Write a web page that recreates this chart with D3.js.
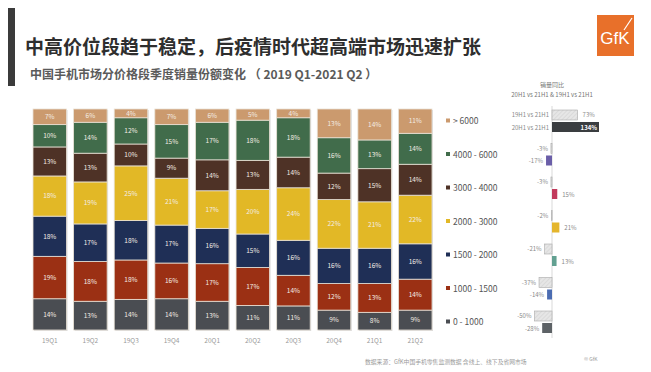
<!DOCTYPE html>
<html>
<head>
<meta charset="utf-8">
<script src="https://cdn.jsdelivr.net/npm/d3@7"></script>
<style>
  body { margin: 0; background: #fff; }
  svg { display: block; font-family: "Noto Sans CJK SC", "Noto Sans", sans-serif; }
</style>
</head>
<body>
<div id="chart"></div>
<script>
// quarters on the x axis
var quarters = ["19Q1", "19Q2", "19Q3", "19Q4", "20Q1", "20Q2", "20Q3", "20Q4", "21Q1", "21Q2"];
// price bands, bottom of the stack first
var bands = ["0 - 1000", "1000 - 1500", "1500 - 2000", "2000 - 3000", "3000 - 4000", "4000 - 6000", "> 6000"];
var bandColors = ["#4a4d52", "#9b3014", "#1f2f56", "#e2b826", "#4e3226", "#416c4b", "#cb9a6e"];

// share per band (%) for each quarter, same order as bands
var s0_1000    = [14, 13, 14, 14, 13, 11, 11, 9, 8, 9];
var s1000_1500 = [19, 18, 18, 16, 17, 17, 14, 12, 13, 14];
var s1500_2000 = [18, 17, 18, 17, 16, 15, 16, 16, 16, 16];
var s2000_3000 = [18, 19, 25, 21, 17, 20, 24, 22, 21, 22];
var s3000_4000 = [13, 13, 10, 9, 14, 13, 14, 12, 15, 14];
var s4000_6000 = [10, 14, 12, 15, 17, 18, 18, 16, 13, 14];
var s6000      = [7, 6, 4, 7, 6, 5, 4, 13, 14, 11];
var shares = [s0_1000, s1000_1500, s1500_2000, s2000_3000, s3000_4000, s4000_6000, s6000];

// yoy sales growth (%), listed top band first like the legend
var legendOrder = ["> 6000", "4000 - 6000", "3000 - 4000", "2000 - 3000", "1500 - 2000", "1000 - 1500", "0 - 1000"];
var yoy19 = [73, -3, -3, -2, -21, -37, -50];
var yoy20 = [134, -17, 15, 21, 13, -14, -28];
var yoyColors = ["#3a3d40", "#6a5ea8", "#c23a5c", "#e4b52c", "#62a091", "#4b6cb2", "#5d6266"];

var W = 651, H = 372;
var svg = d3.select("#chart").append("svg").attr("width", W).attr("height", H);

var defs = svg.append("defs");
var pat = defs.append("pattern").attr("id", "hatch").attr("width", 3).attr("height", 3)
    .attr("patternUnits", "userSpaceOnUse").attr("patternTransform", "rotate(45)");
pat.append("rect").attr("width", 3).attr("height", 3).attr("fill", "#e6e6e6");
pat.append("line").attr("x1", 0).attr("y1", 0).attr("x2", 0).attr("y2", 3)
    .attr("stroke", "#cfcfcf").attr("stroke-width", 1);

// title block
svg.append("rect").attr("x", 8).attr("y", 8).attr("width", 7).attr("height", 78).attr("fill", "#3b3b3b");
svg.append("text").attr("x", 25).attr("y", 54).attr("font-size", 19).attr("font-weight", "bold")
    .attr("fill", "#2e2e2e").text("中高价位段趋于稳定，后疫情时代超高端市场迅速扩张");
svg.append("text").attr("x", 30).attr("y", 79).attr("font-size", 12).attr("font-weight", "bold")
    .attr("fill", "#5a5a5a").text("中国手机市场分价格段季度销量份额变化 （ 2019 Q1-2021 Q2 ）");

// logo
svg.append("rect").attr("x", 597).attr("y", 15).attr("width", 37).attr("height", 41).attr("fill", "#e8702a");
svg.append("text").attr("x", 615).attr("y", 44).attr("text-anchor", "middle").attr("font-size", 17)
    .attr("fill", "#fff").attr("font-family", "Liberation Sans Narrow, Liberation Sans").text("GfK");
svg.append("line").attr("x1", 624).attr("y1", 30).attr("x2", 632).attr("y2", 18)
    .attr("stroke", "#fff").attr("stroke-width", 1.2);

// stacked bars
var table = quarters.map(function (q, i) {
    var row = { q: q };
    bands.forEach(function (b, j) { row[b] = shares[j][i]; });
    return row;
});
var series = d3.stack().keys(bands).offset(d3.stackOffsetExpand)(table);

var x = d3.scaleBand().domain(quarters).range([33, 432]).paddingInner(0.175).paddingOuter(0);
var y = d3.scaleLinear().domain([0, 1]).range([330, 109]);

svg.append("g").selectAll("rect").data(quarters).join("rect")
    .attr("x", function (d) { return x(d) + 1; }).attr("y", y(1) + 1)
    .attr("width", x.bandwidth()).attr("height", y(0) - y(1))
    .attr("fill", "#d9d9d9");

var layer = svg.append("g").selectAll("g").data(series).join("g")
    .attr("fill", function (d, i) { return bandColors[i]; });

layer.selectAll("rect").data(function (d) { return d; }).join("rect")
    .attr("x", function (d) { return x(d.data.q); })
    .attr("y", function (d) { return y(d[1]); })
    .attr("width", x.bandwidth())
    .attr("height", function (d) { return y(d[0]) - y(d[1]); })
    .attr("stroke", "#e9e2d6").attr("stroke-width", 0.8);

layer.selectAll("text").data(function (d, j) {
        return d.map(function (v, i) { return { v: v, pct: shares[j][i] }; });
    }).join("text")
    .attr("x", function (d) { return x(d.v.data.q) + x.bandwidth() / 2; })
    .attr("y", function (d) { return (y(d.v[0]) + y(d.v[1])) / 2 + 2.3; })
    .attr("text-anchor", "middle").attr("font-size", 6.5).attr("fill", "#f3ece4")
    .text(function (d) { return d.pct + "%"; });

svg.append("g").selectAll("text").data(quarters).join("text")
    .attr("x", function (d) { return x(d) + x.bandwidth() / 2; }).attr("y", 343)
    .attr("text-anchor", "middle").attr("font-size", 6.5).attr("fill", "#9a9a9a")
    .text(function (d) { return d; });

// legend
var ry = d3.scalePoint().domain(legendOrder).range([121, 322]);
var leg = svg.append("g").selectAll("g").data(legendOrder).join("g")
    .attr("transform", function (d) { return "translate(446," + ry(d) + ")"; });
leg.append("rect").attr("x", 0).attr("y", -2.5).attr("width", 4).attr("height", 4)
    .attr("fill", function (d) { return bandColors[bands.indexOf(d)]; });
leg.append("text").attr("x", 7).attr("y", 3).attr("font-size", 8.5).attr("fill", "#555")
    .text(function (d) { return d; });

// yoy chart
svg.append("text").attr("x", 552).attr("y", 87).attr("text-anchor", "middle").attr("font-size", 6)
    .attr("fill", "#777").text("销量同比");
svg.append("text").attr("x", 552).attr("y", 97).attr("text-anchor", "middle").attr("font-size", 6)
    .attr("fill", "#777").text("20H1 vs 21H1 & 19H1 vs 21H1");

var gx = d3.scaleLinear().domain([0, 134]).range([552, 599]);
svg.append("line").attr("x1", gx(0)).attr("x2", gx(0)).attr("y1", 106).attr("y2", 338)
    .attr("stroke", "#cfcfcf").attr("stroke-width", 0.8);

var grp = svg.append("g").selectAll("g").data(legendOrder).join("g")
    .attr("transform", function (d) { return "translate(0," + ry(d) + ")"; });

grp.append("rect")
    .attr("x", function (d, i) { return Math.min(gx(0), gx(yoy19[i])); })
    .attr("y", -11).attr("height", 10)
    .attr("width", function (d, i) { return Math.max(0.8, Math.abs(gx(yoy19[i]) - gx(0))); })
    .attr("fill", "url(#hatch)").attr("stroke", "#a9a9a9").attr("stroke-width", 0.6);

grp.append("rect")
    .attr("x", function (d, i) { return Math.min(gx(0), gx(yoy20[i])); })
    .attr("y", 1).attr("height", 10)
    .attr("width", function (d, i) { return Math.abs(gx(yoy20[i]) - gx(0)); })
    .attr("fill", function (d, i) { return yoyColors[i]; });

grp.append("text")
    .attr("x", function (d, i) { return yoy19[i] >= 0 ? gx(yoy19[i]) + 5 : gx(yoy19[i]) - 3; })
    .attr("y", -4).attr("font-size", 6).attr("fill", "#8a8a8a")
    .attr("text-anchor", function (d, i) { return yoy19[i] >= 0 ? "start" : "end"; })
    .text(function (d, i) { return yoy19[i] + "%"; });

grp.append("text")
    .attr("x", function (d, i) {
        if (i === 0) return gx(yoy20[i]) - 2;
        return yoy20[i] >= 0 ? gx(yoy20[i]) + 5 : gx(yoy20[i]) - 3;
    })
    .attr("y", 8.5).attr("font-size", 6)
    .attr("fill", function (d, i) { return i === 0 ? "#fff" : "#8a8a8a"; })
    .attr("font-weight", function (d, i) { return i === 0 ? "bold" : "normal"; })
    .attr("text-anchor", function (d, i) { return (i === 0 || yoy20[i] < 0) ? "end" : "start"; })
    .text(function (d, i) { return yoy20[i] + "%"; });

// series names, first group only
svg.append("text").attr("x", gx(0) - 3).attr("y", ry(legendOrder[0]) - 4).attr("text-anchor", "end")
    .attr("font-size", 6).attr("fill", "#8a8a8a").text("19H1 vs 21H1");
svg.append("text").attr("x", gx(0) - 3).attr("y", ry(legendOrder[0]) + 8.5).attr("text-anchor", "end")
    .attr("font-size", 6).attr("fill", "#8a8a8a").text("20H1 vs 21H1");

// footer
svg.append("text").attr("x", 365).attr("y", 364).attr("font-size", 5.8).attr("fill", "#9a9a9a")
    .text("数据来源：GfK中国手机零售监测数据  含线上、线下及省网市场");
svg.append("text").attr("x", 584).attr("y", 361).attr("font-size", 5).attr("fill", "#9a9a9a")
    .text("© GfK");
</script>
</body>
</html>
